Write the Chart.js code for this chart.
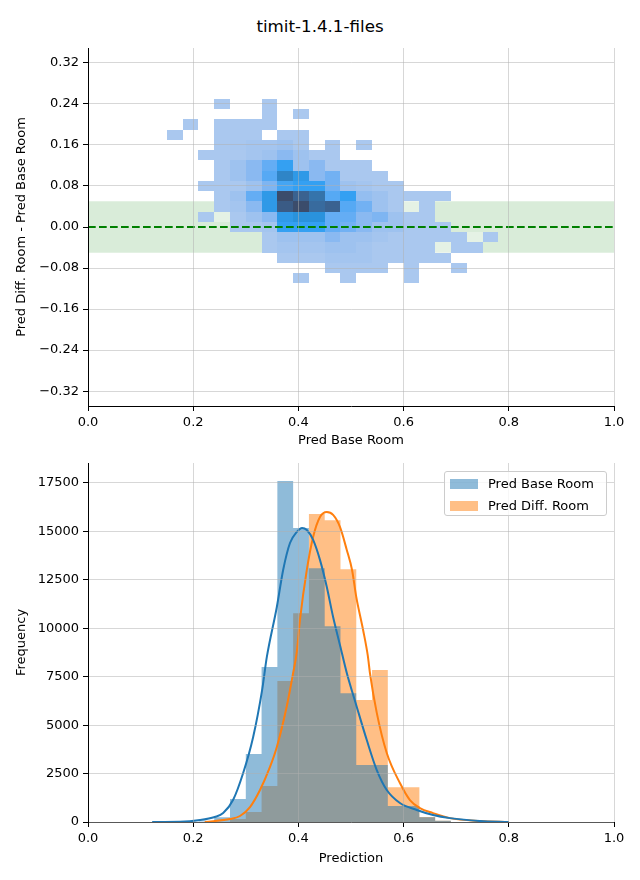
<!DOCTYPE html>
<html>
<head>
<meta charset="utf-8">
<title>timit-1.4.1-files</title>
<script src="https://cdn.jsdelivr.net/npm/chart.js@4.4.1/dist/chart.umd.min.js"></script>
<style>
  body { margin: 0; background: #fff; font-family: 'DejaVu Sans', sans-serif; color: #000; }
  #fig { position: relative; width: 640px; height: 880px; }
  #title { position: absolute; left: 0; top: 15px; width: 640px; text-align: center; font-size: 16.7px; line-height: 22px; }
  canvas { position: absolute; left: 0; }
  #top { top: 40px; }
  #bottom { top: 455px; }
  .legend { position: absolute; left: 444px; top: 471px; width: 163px; height: 45px; box-sizing: border-box;
            border: 1px solid #ccc; border-radius: 3px; background: rgba(255,255,255,0.8); font-size: 13px; }
  .item { position: absolute; left: 5px; height: 16px; line-height: 16px; white-space: nowrap; }
  .swatch { display: inline-block; width: 28px; height: 10px; vertical-align: -1px; margin-right: 10px; }
</style>
</head>
<body>
<div id="fig">
  <div id="title">timit-1.4.1-files</div>
  <canvas id="top" width="640" height="412"></canvas>
  <canvas id="bottom" width="640" height="415"></canvas>
  <div class="legend">
    <div class="item" style="top:4px"><span class="swatch" style="background:rgba(31,119,180,0.5)"></span>Pred Base Room</div>
    <div class="item" style="top:26px"><span class="swatch" style="background:rgba(255,127,14,0.5)"></span>Pred Diff. Room</div>
  </div>
</div>
<script>
// ---- data ----
const predTicks = [0, 0.2, 0.4, 0.6, 0.8, 1.0];
const diffTicks = [-0.32, -0.24, -0.16, -0.08, 0, 0.08, 0.16, 0.24, 0.32];
const freqTicks = [0, 2500, 5000, 7500, 10000, 12500, 15000, 17500];

// 2D histogram: column centres (Pred Base Room), row centres (difference), relative counts
const baseCols = [0.165, 0.195, 0.225, 0.255, 0.285, 0.315, 0.345, 0.375, 0.405, 0.435, 0.465,
                  0.495, 0.525, 0.555, 0.585, 0.615, 0.645, 0.675, 0.705, 0.735, 0.765];
const diffRows = [0.24, 0.22, 0.20, 0.18, 0.16, 0.14, 0.12, 0.10, 0.08, 0.06, 0.04, 0.02, 0.00,
                  -0.02, -0.04, -0.06, -0.08, -0.10];
const heatCounts = [
  [0,0,0,1,0,0,1,0,0,0,0,0,0,0,0,0,0,0,0,0,0],
  [0,0,0,0,0,0,1,0,1,0,0,0,0,0,0,0,0,0,0,0,0],
  [0,1,0,1,1,1,1,0,0,0,0,0,0,0,0,0,0,0,0,0,0],
  [1,0,0,1,1,1,0,1,1,0,0,0,0,0,0,0,0,0,0,0,0],
  [0,0,0,1,1.2,1.5,1.5,2,1,0,1,0,1,0,0,0,0,0,0,0,0],
  [0,0,1,1,1,1.5,2,3,2,1,1,0,0,0,0,0,0,0,0,0,0],
  [0,0,0,1,2,3,4.5,6,2,3,1,1,1,0,0,0,0,0,0,0,0],
  [0,0,0,1,2,3,5,7.5,6.5,3,4,1,1,1,0,0,0,0,0,0,0],
  [0,0,1,1,1,2,3.5,5.5,6,6,4,2,1.5,1,1,0,0,0,0,0,0],
  [0,0,0,1,2,4.5,6.5,10,9,8.2,5,6,2.5,2,1,1,1,1,0,0,0],
  [0,0,0,1,1.5,3,6.5,9.3,10,8.6,9,5,4,2,1,0.5,1,0,0,0,0],
  [0,0,1,0.5,1,2,3,6.5,7,7,4.5,4.5,3,3.5,2,1,1,0,0,0,0],
  [0,0,0,0,1,1,1.5,6,6,6,4.5,4,3,2,2,1,1,1,0,0,0],
  [0,0,0,0,0,0,1,2,2,2,3,2,2,1.5,1,1,1,1,1,0.5,1],
  [0,0,0,0,0,0,1,1.5,1.5,1.5,2,2,1.5,1,1,1,1,0.5,1,1,0],
  [0,0,0,0,0,0,0,1,1,1,1.5,1.5,1.5,1,1,1,1,1,0,0,0],
  [0,0,0,0,0,0,0,0,0,0,1,1,1,1,0,1,0,0,1,0,0],
  [0,0,0,0,0,0,0,0,1,0,0,1,0,0,0,1,0,0,0,0,0]
];
const bandLimit = 0.05;

// 1D histograms: bin edges and counts per bin, plus KDE curves
const binEdges = [0.21, 0.24, 0.27, 0.30, 0.33, 0.36, 0.39, 0.42, 0.45, 0.48,
                  0.51, 0.54, 0.57, 0.60, 0.63, 0.66, 0.69];
const baseCounts = [30, 250, 1190, 3510, 8000, 17600, 15170, 13100, 10110, 6650,
                    2940, 2940, 825, 825, 250, 60];
const diffCounts = [0, 0, 150, 516, 1860, 7280, 10780, 15900, 15580, 13050,
                    6300, 7840, 1800, 1800, 260, 60];
const baseKdeX = [0.122, 0.175, 0.213, 0.241, 0.257, 0.276, 0.295, 0.314, 0.331, 0.340, 0.359, 0.371,
                  0.384, 0.397, 0.407, 0.416, 0.428, 0.441, 0.454, 0.466, 0.479, 0.492, 0.511, 0.530,
                  0.549, 0.568, 0.593, 0.625, 0.656, 0.688, 0.745, 0.800];
const baseKdeY = [0, 10, 100, 260, 460, 1150, 2530, 4390, 6810, 8520, 11100, 13010,
                  14400, 14970, 15180, 15070, 14560, 13530, 12130, 10580, 9140, 7690, 5940, 4230,
                  2680, 1650, 980, 620, 360, 200, 50, 0];
const diffKdeX = [0.222, 0.270, 0.289, 0.308, 0.327, 0.346, 0.359, 0.378, 0.390, 0.397, 0.403, 0.416,
                  0.428, 0.441, 0.454, 0.466, 0.479, 0.492, 0.502, 0.510, 0.523, 0.532, 0.536, 0.549,
                  0.568, 0.593, 0.612, 0.631, 0.656, 0.688, 0.745, 0.800];
const diffKdeY = [0, 150, 310, 770, 1650, 2840, 3870, 5990, 7690, 8780, 10430, 13010,
                  14710, 15740, 16000, 15850, 15230, 14040, 13010, 11620, 9910, 8570, 7690, 5630,
                  3560, 2010, 1135, 720, 460, 200, 50, 0];

// ---- styling helpers ----
Chart.defaults.font.family = "'DejaVu Sans', sans-serif";
Chart.defaults.font.size = 13;
Chart.defaults.color = '#000';

const gridColor = 'rgba(176,176,176,0.5)';
const heatStops = [
  [1, [170, 200, 239]], [2, [158, 194, 239]], [3, [138, 185, 241]], [4, [114, 177, 243]],
  [5, [86, 169, 244]], [6, [52, 160, 242]], [7, [42, 146, 220]], [8, [52, 120, 178]],
  [9, [58, 98, 144]], [10, [59, 76, 107]]
];
function heatColor(v) {
  if (v < 1) return 'rgba(255,255,255,0.3)';
  for (let i = 1; i < heatStops.length; i++) {
    const [v1, c1] = heatStops[i];
    if (v <= v1) {
      const [v0, c0] = heatStops[i - 1];
      const t = (v - v0) / (v1 - v0);
      const c = c0.map((a, k) => Math.round(a + (c1[k] - a) * t));
      return `rgb(${c[0]},${c[1]},${c[2]})`;
    }
  }
  return 'rgb(59,76,107)';
}
const minus = s => s.replace('-', '\u2212');

// step outline of a histogram: one point per left edge, last point closes the final bin
function histSteps(counts) {
  const pts = counts.map((c, i) => ({ x: binEdges[i], y: c }));
  pts.push({ x: binEdges[binEdges.length - 1], y: counts[counts.length - 1] });
  return pts;
}

function axisX(title, height) {
  return {
    type: 'linear', min: 0, max: 1, offset: false,
    afterBuildTicks: ax => { ax.ticks = predTicks.map(v => ({ value: v })); },
    afterFit: ax => { ax.height = height; ax.paddingLeft = 0; ax.paddingRight = 0; },
    ticks: { padding: 4, maxRotation: 0, callback: v => v.toFixed(1) },
    grid: { z: 1, color: gridColor, offset: false, tickLength: 5, tickColor: '#000' },
    border: { display: true, color: '#000', width: 1, z: 1 },
    title: { display: true, text: title, padding: { top: 4, bottom: 4 } }
  };
}
function axisY(title, min, max, ticks, fmt, skipZeroGrid) {
  return {
    type: 'linear', min: min, max: max,
    afterBuildTicks: ax => { ax.ticks = ticks.map(v => ({ value: v })); },
    afterFit: ax => { ax.width = 88; ax.paddingTop = 0; ax.paddingBottom = 0; },
    ticks: { padding: 4, callback: fmt },
    grid: {
      z: 1, tickLength: 5, tickColor: '#000',
      color: ctx => (skipZeroGrid && ctx.tick && ctx.tick.value === 0) ? 'rgba(0,0,0,0)' : gridColor
    },
    border: { display: true, color: '#000', width: 1, z: 1 },
    title: { display: true, text: title, padding: { top: 14, bottom: 4 } }
  };
}

// heatmap cells, drawn over the band and under the dashed zero line
const heatCells = {
  id: 'heatCells',
  beforeDatasetDraw(chart, args) {
    if (args.index !== 0) return;
    const xs = chart.scales.x, ys = chart.scales.y, ctx = chart.ctx;
    const hw = (baseCols[1] - baseCols[0]) / 2;
    const hh = (diffRows[0] - diffRows[1]) / 2;
    ctx.save();
    heatCounts.forEach((row, r) => row.forEach((v, c) => {
      if (!v) return;
      const x0 = Math.round(xs.getPixelForValue(baseCols[c] - hw));
      const x1 = Math.round(xs.getPixelForValue(baseCols[c] + hw));
      const y0 = Math.round(ys.getPixelForValue(diffRows[r] + hh));
      const y1 = Math.round(ys.getPixelForValue(diffRows[r] - hh));
      ctx.fillStyle = heatColor(v);
      ctx.fillRect(x0, y0, x1 - x0, y1 - y0);
    }));
    ctx.restore();
  }
};

new Chart(document.getElementById('top'), {
  type: 'line',
  data: {
    datasets: [
      { data: [{ x: 0, y: 0 }, { x: 1, y: 0 }], borderColor: '#008000', borderWidth: 2,
        borderDash: [7.7, 3.3], pointRadius: 0, fill: false },
      { data: [{ x: 0, y: bandLimit }, { x: 1, y: bandLimit }], borderWidth: 0, pointRadius: 0,
        fill: '+1', backgroundColor: 'rgba(0,128,0,0.15)' },
      { data: [{ x: 0, y: -bandLimit }, { x: 1, y: -bandLimit }], borderWidth: 0, pointRadius: 0, fill: false }
    ]
  },
  options: {
    responsive: false, animation: false,
    layout: { padding: { top: 8, right: 26, left: 0, bottom: 0 } },
    plugins: { legend: { display: false }, tooltip: { enabled: false } },
    scales: {
      x: axisX('Pred Base Room', 46),
      y: axisY('Pred Diff. Room - Pred Base Room', -0.349, 0.349, diffTicks, v => minus(v.toFixed(2)), true)
    }
  },
  plugins: [heatCells]
});

new Chart(document.getElementById('bottom'), {
  type: 'line',
  data: {
    datasets: [
      { label: 'Pred Base Room', data: histSteps(baseCounts), stepped: 'before',
        backgroundColor: 'rgba(31,119,180,0.5)', borderWidth: 0, pointRadius: 0, fill: 'origin', order: 3 },
      { label: 'Pred Diff. Room', data: histSteps(diffCounts), stepped: 'before',
        backgroundColor: 'rgba(255,127,14,0.5)', borderWidth: 0, pointRadius: 0, fill: 'origin', order: 4 },
      { data: baseKdeX.map((x, i) => ({ x: x, y: baseKdeY[i] })), fill: false,
        borderColor: '#1f77b4', borderWidth: 2, pointRadius: 0, cubicInterpolationMode: 'monotone', order: 1 },
      { data: diffKdeX.map((x, i) => ({ x: x, y: diffKdeY[i] })), fill: false,
        borderColor: '#ff7f0e', borderWidth: 2, pointRadius: 0, cubicInterpolationMode: 'monotone', order: 2 }
    ]
  },
  options: {
    responsive: false, animation: false,
    layout: { padding: { top: 8, right: 26, left: 0, bottom: 0 } },
    plugins: { legend: { display: false }, tooltip: { enabled: false } },
    scales: {
      x: axisX('Prediction', 48),
      y: axisY('Frequency', 0, 18530, freqTicks, v => String(v), false)
    }
  }
});
</script>
</body>
</html>
